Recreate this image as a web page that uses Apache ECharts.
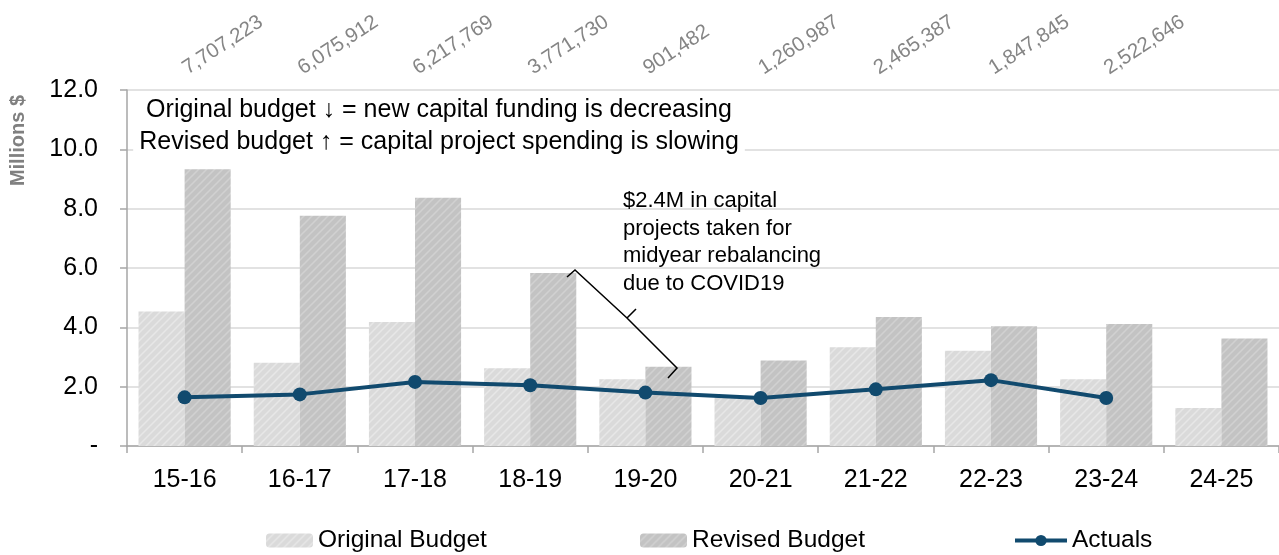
<!DOCTYPE html>
<html>
<head>
<meta charset="utf-8">
<script src="https://cdn.jsdelivr.net/npm/echarts@6/dist/echarts.min.js"></script>
<style>
  html, body { margin: 0; padding: 0; background: #fff; }
  #capitalChart { width: 1279px; height: 555px; }
</style>
</head>
<body>
<div id="capitalChart"></div>
<script>
// fiscal years
const years = ['15-16', '16-17', '17-18', '18-19', '19-20', '20-21', '21-22', '22-23', '23-24', '24-25']
// millions $
const originalBudget = [4.53, 2.81, 4.18, 2.62, 2.25, 1.65, 3.33, 3.21, 2.25, 1.28]
const revisedBudget = [9.33, 7.76, 8.37, 5.83, 2.67, 2.88, 4.35, 4.04, 4.11, 3.62]
const actuals = [1.64, 1.74, 2.16, 2.05, 1.80, 1.62, 1.91, 2.22, 1.62, null]
// revised minus actuals, shown on top
const unspent = ['7,707,223', '6,075,912', '6,217,769', '3,771,730', '901,482', '1,260,987', '2,465,387', '1,847,845', '2,522,646', '']

const FONT = 'Liberation Sans'

function hatch(bg, fg) {
  const c = document.createElement('canvas')
  c.width = 8
  c.height = 8
  const ctx = c.getContext('2d')
  ctx.fillStyle = bg
  ctx.fillRect(0, 0, 8, 8)
  ctx.strokeStyle = fg
  ctx.lineWidth = 1.5
  ctx.beginPath()
  ctx.moveTo(-1, 9); ctx.lineTo(9, -1)
  ctx.moveTo(-3, 3); ctx.lineTo(3, -3)
  ctx.moveTo(5, 11); ctx.lineTo(11, 5)
  ctx.stroke()
  return { image: c, repeat: 'repeat' }
}

const chart = echarts.init(document.getElementById('capitalChart'))

function getOptionData() {
  const legendText = { fontFamily: FONT, fontSize: 24.5, color: '#000' }
  return {
    animation: false,
    textStyle: { fontFamily: FONT },
    grid: { left: 127, top: 90, width: 1156, height: 356 },
    legend: [
      { data: ['Original Budget'], left: 266, top: 528, padding: 0, itemWidth: 47, itemHeight: 14, textStyle: legendText },
      { data: ['Revised Budget'], left: 640, top: 528, padding: 0, itemWidth: 47, itemHeight: 14, textStyle: legendText },
      { data: ['Actuals'], left: 1013, top: 528, padding: 0, itemWidth: 52, itemHeight: 14, textStyle: legendText,
        lineStyle: { width: 4 } }
    ],
    xAxis: [
      {
        type: 'category',
        data: years,
        axisLine: { lineStyle: { color: '#a6a6a6', width: 1.5 } },
        axisTick: { show: true, length: 7, lineStyle: { color: '#a6a6a6', width: 1.5 } },
        axisLabel: { color: '#000', fontSize: 25, margin: 22, fontFamily: FONT }
      },
      {
        type: 'category',
        position: 'top',
        data: unspent,
        axisLine: { show: false },
        axisTick: { show: false },
        axisLabel: { color: '#858585', fontSize: 20.5, rotate: -33, margin: 20, fontFamily: FONT, interval: 0 }
      }
    ],
    yAxis: {
      type: 'value',
      min: 0,
      max: 12,
      interval: 2,
      axisLine: { show: true, lineStyle: { color: '#a6a6a6', width: 1.5 } },
      axisTick: { show: true, length: 7, lineStyle: { color: '#a6a6a6', width: 1.5 } },
      splitLine: { lineStyle: { color: '#d9d9d9', width: 1.5 } },
      axisLabel: {
        color: '#000',
        fontSize: 25,
        margin: 29,
        fontFamily: FONT,
        formatter: v => (v === 0 ? '-' : v.toFixed(1))
      }
    },
    graphic: [
      {
        type: 'text',
        left: 8,
        top: 95,
        rotation: Math.PI / 2,
        style: { text: 'Millions $', fill: '#808080', font: 'bold 20px ' + FONT }
      },
      {
        type: 'text',
        x: 439,
        y: 92,
        z: 10,
        style: {
          text: 'Original budget \u2193 = new capital funding is decreasing\nRevised budget \u2191 = capital project spending is slowing',
          fill: '#000',
          font: '25px ' + FONT,
          align: 'center',
          lineHeight: 32,
          backgroundColor: '#fff',
          padding: [2, 6, 0, 6]
        }
      },
      {
        type: 'text',
        x: 623,
        y: 187,
        z: 10,
        style: {
          text: '$2.4M in capital\nprojects taken for\nmidyear rebalancing\ndue to COVID19',
          fill: '#000',
          font: '22px ' + FONT,
          lineHeight: 27.7
        }
      },
      {
        type: 'polyline',
        z: 10,
        shape: { points: [[567, 277], [575, 270], [627, 318], [636, 309], [627, 318], [677, 368], [668, 378]] },
        style: { stroke: '#000', lineWidth: 1.5, fill: null }
      }
    ],
    series: [
      {
        name: 'Original Budget',
        type: 'bar',
        data: originalBudget,
        barGap: '0%',
        barCategoryGap: '20%',
        itemStyle: { color: hatch('#dadada', '#e7e7e7') }
      },
      {
        name: 'Revised Budget',
        type: 'bar',
        data: revisedBudget,
        barGap: '0%',
        barCategoryGap: '20%',
        itemStyle: { color: hatch('#c3c3c3', '#d1d1d1') }
      },
      {
        name: 'Actuals',
        type: 'line',
        data: actuals,
        symbol: 'circle',
        symbolSize: 14,
        z: 5,
        lineStyle: { color: '#114a6e', width: 4 },
        itemStyle: { color: '#114a6e' }
      }
    ]
  }
}

chart.setOption(getOptionData())
</script>
</body>
</html>
